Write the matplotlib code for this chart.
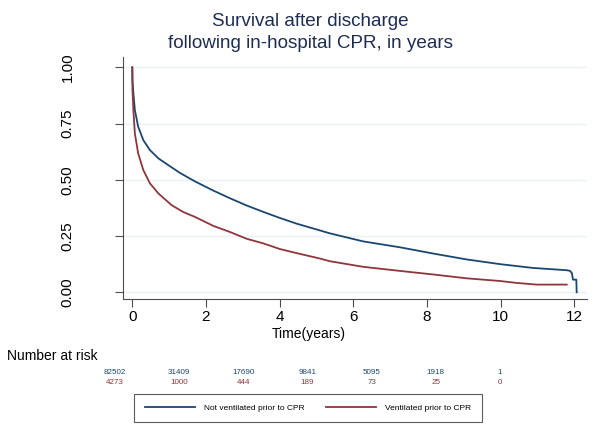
import matplotlib
matplotlib.use("Agg")
import matplotlib.pyplot as plt

plt.rcParams["font.family"] = ["Liberation Sans", "DejaVu Sans"]

# -- Data ---------------------------------------------------------------------

t_not_vent = [0.0, 0.005, 0.03, 0.07, 0.16, 0.30, 0.48, 0.71, 0.98, 1.29,
              1.70, 2.20, 2.65, 3.10, 3.56, 4.01, 4.46, 5.09, 5.36, 6.27,
              7.26, 8.17, 9.07, 9.98, 10.88, 11.79, 11.88, 11.93, 11.96,
              12.05, 12.06]
s_not_vent = [1.0, 0.94, 0.884, 0.81, 0.736, 0.676, 0.632, 0.595, 0.565,
              0.531, 0.493, 0.452, 0.418, 0.386, 0.357, 0.33, 0.305, 0.275,
              0.262, 0.226, 0.2, 0.172, 0.146, 0.125, 0.108, 0.098, 0.095,
              0.085, 0.056, 0.056, 0.0]

t_vent = [0.0, 0.005, 0.03, 0.07, 0.16, 0.30, 0.48, 0.71, 1.07, 1.38, 1.70,
          2.20, 2.65, 3.10, 3.56, 4.01, 4.46, 5.09, 5.36, 6.27, 7.26, 7.54,
          8.17, 9.07, 9.98, 10.4, 10.97, 11.79]
s_vent = [1.0, 0.9, 0.81, 0.706, 0.617, 0.543, 0.484, 0.439, 0.387, 0.357,
          0.335, 0.295, 0.268, 0.238, 0.217, 0.192, 0.174, 0.15, 0.138, 0.113,
          0.095, 0.09, 0.079, 0.062, 0.05, 0.042, 0.034, 0.034]

risk_times = [0, 2, 4, 6, 8, 10, 12]
risk_not_vent = [82502, 31409, 17690, 9841, 5095, 1918, 1]
risk_vent = [4273, 1000, 444, 189, 73, 25, 0]

labels = ["Not ventilated prior to CPR", "Ventilated prior to CPR"]
y_ticks = [0.0, 0.25, 0.5, 0.75, 1.0]
x_ticks = [0, 2, 4, 6, 8, 10, 12]

BLUE = "#1a476f"
RED = "#90353b"
TITLE = "#1e2d53"
AXIS = "#4d4d4d"

W, H = 600, 433


def fx(px):
    return px / W


def fy(py):
    return 1 - py / H


# -- Figure -------------------------------------------------------------------

fig = plt.figure(figsize=(6, 4.33), dpi=100)
fig.patch.set_facecolor("white")

ax = fig.add_axes([fx(123), fy(299), fx(587) - fx(123), fy(57) - fy(299)])
ax.plot(t_not_vent, s_not_vent, color=BLUE, lw=1.3, label=labels[0])
ax.plot(t_vent, s_vent, color=RED, lw=1.3, label=labels[1])

ax.set_xlim(-0.252, 12.34)
ax.set_ylim(-0.03, 1.046)
ax.set_xticks(x_ticks)
ax.set_yticks(y_ticks)
ax.set_yticklabels([f"{v:.2f}" for v in y_ticks], rotation=90, va="center")
ax.grid(axis="y", color="#eaf2f3", lw=1.0)
ax.set_axisbelow(True)
for side in ("top", "right"):
    ax.spines[side].set_visible(False)
for side in ("left", "bottom"):
    ax.spines[side].set_color(AXIS)
    ax.spines[side].set_linewidth(0.8)
ax.tick_params(axis="x", direction="out", length=6, width=0.8, color=AXIS,
               labelsize=11, pad=2)
ax.tick_params(axis="y", direction="out", length=6, width=0.8, color=AXIS,
               labelsize=11, pad=29)

fig.text(fx(310), fy(22), "Survival after discharge", ha="center", va="center",
         fontsize=13.6, color=TITLE)
fig.text(fx(310), fy(43.5), "following in-hospital CPR, in years", ha="center",
         va="center", fontsize=13.6, color=TITLE)
fig.text(fx(309), fy(334), "Time(years)", ha="center", va="center", fontsize=10)

# -- Number at risk table -------------------------------------------------------

fig.text(fx(7), fy(356), "Number at risk", ha="left", va="center", fontsize=10)
rax = fig.add_axes([fx(115), fy(390), fx(500) - fx(115), fy(365) - fy(390)])
rax.set_xlim(0, 12)
rax.set_ylim(390, 365)
rax.axis("off")
for t, n1, n2 in zip(risk_times, risk_not_vent, risk_vent):
    rax.text(t, 372, str(n1), ha="center", va="center", fontsize=5.8, color=BLUE)
    rax.text(t, 382, str(n2), ha="center", va="center", fontsize=5.8, color=RED)

# -- Legend -------------------------------------------------------------------

handles, leg_labels = ax.get_legend_handles_labels()
leg = fig.legend(handles, leg_labels, loc="center",
                 bbox_to_anchor=(fx(308), fy(408)), ncol=2, fontsize=6,
                 handlelength=6, handletextpad=1.1, columnspacing=2.6,
                 borderpad=1.25, fancybox=False, frameon=True)
leg.get_frame().set_edgecolor("#333333")
leg.get_frame().set_linewidth(0.8)

fig.savefig("out.png", dpi=100)
